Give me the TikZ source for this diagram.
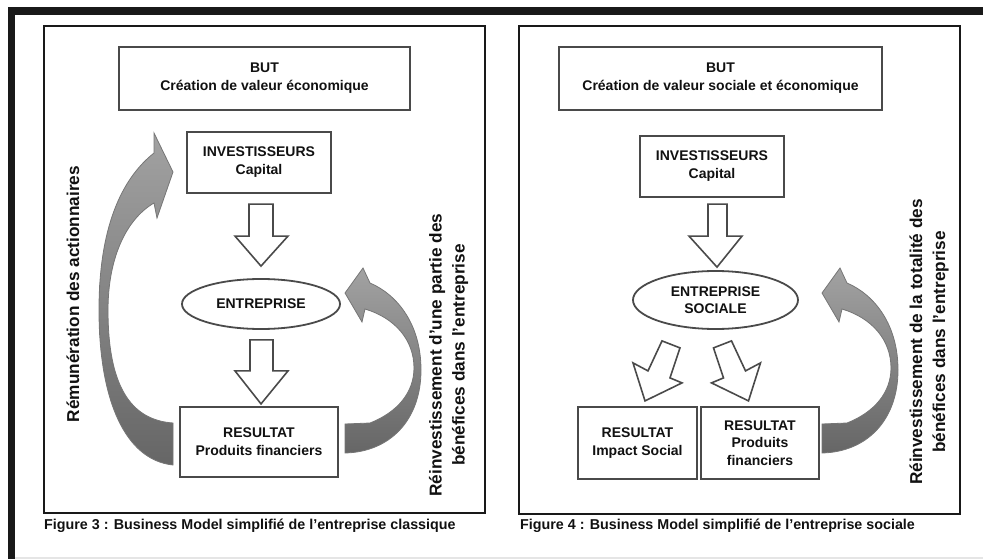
\documentclass[tikz,border=0pt]{standalone}
\usepackage{fontspec}
\setmainfont{Liberation Sans}
\usetikzlibrary{shapes.geometric}
\definecolor{boxgray}{HTML}{4A4A4A}
\definecolor{txt}{HTML}{111111}
\definecolor{arrtop}{HTML}{A2A2A2}
\definecolor{arrbot}{HTML}{666666}
\definecolor{arrline}{HTML}{767676}
\begin{document}
\begin{tikzpicture}[x=1pt,y=-1pt,
  box/.style={draw=boxgray, line width=1.8pt, fill=white, align=center, text=txt,
    font=\bfseries\fontsize{14}{18}\selectfont, inner sep=0pt},
  oval/.style={ellipse, draw=boxgray, line width=1.8pt, fill=white, align=center, text=txt,
    font=\bfseries\fontsize{14}{17.5}\selectfont, inner sep=0pt},
  hollow/.style={draw=boxgray, line width=1.6pt, fill=white, line join=miter},
  curved/.style={top color=arrtop, bottom color=arrbot, draw=arrline, line width=0.8pt},
  sidetext/.style={rotate=90, align=center, text=txt, font=\bfseries\fontsize{17.2}{23}\selectfont, inner sep=0pt},
  caption/.style={anchor=west, text=txt, font=\bfseries\fontsize{14.3}{16}\selectfont, inner sep=0pt},
  frame/.style={draw=black!90, line width=1.5pt},
  reinv/.pic={
    \path[curved] (345,424) -- (370,423)
      .. controls (398,412) and (414,392) .. (414,368)
      .. controls (414,340) and (395,318) .. (365,309)
      -- (362,322) -- (345,293) -- (363,268) -- (370,283)
      .. controls (398,295) and (421,325) .. (421,370)
      .. controls (421,420) and (390,452) .. (345,453) -- cycle;
  }]
\useasboundingbox (0,0) rectangle (983,559);
% outer decorative frame
\fill[black!90] (8,7) rectangle (983,15);
\fill[black!90] (8,7) rectangle (15,559);
\fill[black!10] (15,557) rectangle (983,559);

% ---------------- left panel ----------------
\draw[frame] (44,26) rectangle (485,513);
\node[box, minimum width=291pt, minimum height=63pt] (butL) at (264.5,78.5)
  {BUT\\Création de valeur économique};
\node[box, minimum width=144pt, minimum height=61pt] (invL) at (259,162.5)
  {INVESTISSEURS\\Capital};
\node[oval, minimum width=158pt, minimum height=50pt] (entL) at (261,304) {ENTREPRISE};
\node[box, minimum width=158pt, minimum height=70pt] (resL) at (259,442)
  {RESULTAT\\Produits financiers};

\draw[hollow, shift={(entL.north)}] (-12,-74) -- (12,-74) -- (12,-42) -- (27,-42)
  -- (0,-12) -- (-26,-42) -- (-12,-42) -- cycle;
\draw[hollow, shift={(entL.south)}] (-11,10) -- (12,10) -- (12,41) -- (27,41)
  -- (0,74) -- (-26,41) -- (-11,41) -- cycle;

% remuneration arrow
\path[curved] (173,423)
  .. controls (130,420) and (108,385) .. (108,310)
  .. controls (108,260) and (125,220) .. (154,203)
  -- (157,218) -- (173,172) -- (154,133) -- (154,153)
  .. controls (120,180) and (99,230) .. (99,310)
  .. controls (99,400) and (125,460) .. (173,465) -- cycle;
% reinvestment arrow
\pic {reinv};

\node[sidetext] (remL) at (73,294) {Rémunération des actionnaires};
\node[sidetext] (reiL) at (448.5,355)
  {Réinvestissement d’une partie des\\bénéfices dans l’entreprise};
\node[caption] (capL) at (44,526)
  {Figure 3 : Business Model simplifié de l’entreprise classique};

% ---------------- right panel ----------------
\draw[frame] (519,26) rectangle (960,514);
\node[box, minimum width=323pt, minimum height=63pt] (butR) at (720.5,78.5)
  {BUT\\Création de valeur sociale et économique};
\node[box, minimum width=144pt, minimum height=61pt] (invR) at (712,166.5)
  {INVESTISSEURS\\Capital};
\node[oval, minimum width=165pt, minimum height=58pt] (entR) at (715.5,300)
  {ENTREPRISE\\SOCIALE};
\node[box, minimum width=119pt, minimum height=72pt] (impR) at (637.5,443)
  {RESULTAT\\Impact Social};
\node[box, minimum width=118pt, minimum height=72pt, font=\bfseries\fontsize{14}{17.5}\selectfont] (resR) at (760,443)
  {RESULTAT\\Produits\\financiers};

\draw[hollow, shift={(entR.north)}] (-7.5,-66) -- (11.5,-66) -- (11.5,-34) -- (26.5,-34)
  -- (1.5,-3) -- (-26.5,-34) -- (-7.5,-34) -- cycle;
\draw[hollow, shift={(entR.south)}] (-53.5,11) -- (-35.5,18) -- (-45.5,48) -- (-33.5,53)
  -- (-70.5,71) -- (-82.5,33) -- (-67.5,41) -- cycle;
\draw[hollow, shift={(entR.south)}] (16,11) -- (-2,18) -- (8,48) -- (-4,53)
  -- (33,71) -- (45,33) -- (30,41) -- cycle;

\pic[shift={(477,0)}] {reinv};

\node[sidetext] (reiR) at (929,342)
  {Réinvestissement de la totalité des\\bénéfices dans l’entreprise};
\node[caption] (capR) at (520,526)
  {Figure 4 : Business Model simplifié de l’entreprise sociale};
\end{tikzpicture}
\end{document}
